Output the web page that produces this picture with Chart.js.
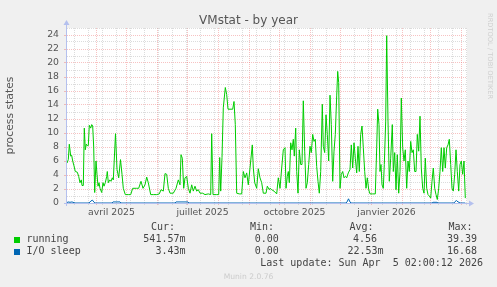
<!DOCTYPE html>
<html><head><meta charset="utf-8">
<script src="https://cdn.jsdelivr.net/npm/chart.js@4.4.1/dist/chart.umd.min.js"></script>
<style>
html,body{margin:0;padding:0;background:#f0f0f0;}
#wrap{position:relative;width:497px;height:287px;overflow:hidden;background:#f0f0f0;}
canvas{position:absolute;left:0;top:0;}
.t{position:absolute;white-space:pre;font-family:'DejaVu Sans';color:#555;}
.m{position:absolute;white-space:pre;font-family:'DejaVu Sans Mono';font-size:10px;line-height:10px;color:#444;}
.sq{position:absolute;width:6px;height:6px;}
</style></head>
<body>
<div id="wrap">
<canvas id="c" width="497" height="287"></canvas>
<div class="t" style="left:0;width:497px;text-align:center;top:13.8px;font-size:12px;line-height:12px;">VMstat - by year</div>
<div class="t" style="left:486.2px;top:13px;writing-mode:vertical-rl;font-size:6.7px;line-height:7px;color:#cfcfcf;">RRDTOOL / TOBI OETIKER</div>

<div class="m" style="right:322px;top:222.2px">Cur:</div>
<div class="m" style="right:223px;top:222.2px">Min:</div>
<div class="m" style="right:123.5px;top:222.2px">Avg:</div>
<div class="m" style="right:24.5px;top:222.2px">Max:</div>

<div class="sq" style="left:14px;top:237px;background:#00cc00"></div>
<div class="m" style="left:26.5px;top:234.3px">running</div>
<div class="m" style="right:311.5px;top:234.3px">541.57m</div>
<div class="m" style="right:218.2px;top:234.3px">0.00</div>
<div class="m" style="right:120px;top:234.3px">4.56</div>
<div class="m" style="right:20px;top:234.3px">39.39</div>

<div class="sq" style="left:14px;top:249px;background:#0066b3"></div>
<div class="m" style="left:26.5px;top:246.3px">I/O sleep</div>
<div class="m" style="right:311.5px;top:246.3px">3.43m</div>
<div class="m" style="right:218.2px;top:246.3px">0.00</div>
<div class="m" style="right:113.5px;top:246.3px">22.53m</div>
<div class="m" style="right:20px;top:246.3px">16.68</div>

<div class="m" style="right:14px;top:258.2px">Last update: Sun Apr  5 02:00:12 2026</div>
<div class="t" style="left:0;width:497px;text-align:center;top:272.9px;font-size:7.6px;line-height:7.6px;color:#cccccc;">Munin 2.0.76</div>
</div>
<script>
// x values: days from the left edge of the 400-day window
const runningDays = [0,1.3,2.3,3.7,4.7,5.7,7,8.3,10.3,11.7,13,14.3,15,16.3,17.3,18.3,19.3,20.3,21.3,22.3,23.7,24.7,25.7,26.7,27.7,29,30,31,32,33,34.7,36,37,38.3,39.7,40.3,41.3,42.7,44,45.3,46.3,48.5,50,51.7,53.5,55,56.3,58.3,61.3,63.7,65.7,69.7,71.7,74,76,78,79.7,81.3,83.7,86.3,89.7,92.3,94,96.3,98,99.7,101.3,103,106.3,109,111.3,113,114,115.3,116.7,118,119.7,121.3,123,124.7,126.3,128,129.7,131.3,133,135.7,138,141.3,143.7,144.7,146,149.7,151.7,152.7,153.7,155,156.3,158.3,159.7,161,163,165.7,167,168.3,169.7,172.3,174.7,176.3,178,179.7,181.3,183,185.3,186.3,187.7,189.7,191.3,193,194.7,196.3,199,200.3,202.3,203,204.7,207,209.7,211.3,213,214.7,216.3,218,219,220.3,221.3,222.3,223.7,225,226.3,227.3,228.7,229.7,231,232.3,233.7,235,236.3,237.7,239,240.3,241.7,243,244.3,245.7,247,248.3,249.7,251,252.3,253.7,255.3,256.3,257.7,259,260.3,261.7,263,264.3,265.7,267,268.3,269.7,270.7,271.7,273,274.3,275.7,277,278.3,279.7,281.3,283,284.3,285.7,287,288.3,289.7,291,292.3,293.7,295,296.3,297.7,299,300.3,301.7,303,305.7,308.3,309.7,310.7,312,313,314,315,316.3,317.3,318.7,319.7,321,322.3,323.7,325.3,326.3,327.7,329,330.3,331.7,333,334.3,335.7,337,338.3,339.7,341,342.3,343.7,345,346.3,347.7,349,350.3,351.7,353,354.3,355.7,357,358.3,359.7,361,362.3,363.7,365,366.3,367.7,369,370.3,371.7,373,374.3,375.7,377,378.3,379.7,381,382.3,383.7,385,386.3,387.7,389,390.3,391.7,393,394.3,395.7,397,398.3];
const runningValues = [5.7,6.2,8.4,6.7,6.8,6.0,5.3,4.5,4.4,3.8,2.9,3.3,2.5,2.5,10.7,7.6,8.4,8.2,8.2,11.1,10.7,11.2,11.0,8.0,1.5,6.0,4.1,2.4,2.9,2.1,1.5,2.9,2.4,2.9,3.8,4.5,2.9,3.3,3.1,3.6,3.3,9.9,4.8,3.6,6.2,4.1,2.1,1.2,1.2,1.2,2.1,2.1,2.1,3.1,2.1,2.6,3.7,2.9,1.2,1.2,1.2,1.3,1.9,1.7,4.2,4.1,2.1,1.4,1.4,2.1,3.3,2.6,6.9,6.4,2.1,3.6,3.8,2.1,1.4,2.6,1.7,2.4,1.7,1.9,1.4,1.4,1.2,1.3,1.2,9.9,1.2,1.2,1.2,6.5,1.7,6.5,13.6,16.5,15.5,13.4,13.4,13.4,14.5,11.2,1.4,1.3,1.3,4.5,3.6,4.3,2.6,5.0,8.3,5.0,2.9,2.1,4.9,3.6,2.9,1.4,1.4,2.4,1.9,2.1,1.9,1.7,1.3,3.6,2.1,5.0,7.6,7.9,2.1,3.8,4.5,2.9,8.6,7.6,9.1,6.7,10.7,4.5,1.4,7.6,5.5,5.5,14.6,7.4,2.1,2.9,5.5,8.1,7.2,9.8,8.8,9.1,5.2,3.1,1.4,4.5,14.1,8.1,7.2,12.6,9.8,6.0,15.4,11.2,3.1,7.4,9.8,15.3,18.8,17.2,2.1,4.1,4.5,3.6,3.8,3.6,4.3,4.8,8.3,5.0,8.6,6.4,4.3,8.1,4.5,9.8,11.0,7.9,4.5,2.1,3.6,1.9,1.3,1.3,1.3,7.9,13.4,11.2,4.5,5.5,2.6,2.1,5.5,11.7,23.9,11.7,3.1,6.4,11.2,4.5,7.2,1.9,6.9,1.4,4.5,15.0,7.9,6.0,7.6,2.1,6.0,4.5,8.8,7.2,7.6,4.5,4.5,9.8,7.4,12.4,5.0,2.1,1.4,6.4,2.1,1.2,1.0,0.7,3.1,5.0,2.1,1.2,0.5,2.1,4.5,7.9,4.5,7.9,5.0,7.9,8.3,9.1,5.5,2.1,1.7,4.1,7.6,4.5,1.7,5.5,6.0,4.1,6.0,0.7];
const ioDays = [0,1,3,5,7,8,22,24,25.5,27,28,45,46,53,54,108,109,121,122,279,280,281.5,283,284,365,366,370,371,387,388,389.5,391,392,393,398.3];
const ioValues = [0.05,0.15,0.1,0.15,0.05,0,0,0.3,0.4,0.1,0,0,0.15,0.15,0,0,0.15,0.15,0,0,0.15,0.6,0.15,0,0,0.1,0.1,0,0,0.2,0.35,0.15,0.1,0,0];
// x axis tick positions (days from left edge)
const monthStartDays = [29,59,90,120,151,182,212,243,273,304,335,363,394];
const twoWeekDays = [7,21,35,49,63,77,91,105,119,133,147,161,175,189,203,217,231,245,259,287,301,315,329,343,357,371,385,399];
const monthLabelDays = [44.5,135.5,227.5,319.5];
const monthLabels = ['avril 2025','juillet 2025','octobre 2025','janvier 2026'];
const yMax = 25;

const GRID = 'rgba(185,185,185,0.5)';
const MGRID = 'rgba(235,110,110,0.42)';
const AXIS = '#b4c0ee';
const FONT = '#555';

function buildXTicks(){
  const t = [];
  monthStartDays.forEach(v => t.push({value:v, kind:'major'}));
  twoWeekDays.forEach(v => t.push({value:v, kind:'minor'}));
  monthLabelDays.forEach(v => t.push({value:v, kind:'label'}));
  t.sort((a,b)=>a.value-b.value);
  return t;
}

const frame = {
  id:'frame',
  beforeDraw(chart){
    const {ctx, chartArea:a} = chart;
    ctx.save(); ctx.fillStyle='#ffffff';
    ctx.fillRect(a.left, a.top, a.right-a.left, a.bottom-a.top);
    ctx.restore();
  },
  afterDatasetsDraw(chart){
    const {ctx, chartArea:a} = chart;
    const by = a.bottom + 0.5, lx = a.left - 0.5;
    ctx.save();
    ctx.strokeStyle = AXIS; ctx.fillStyle = AXIS; ctx.lineWidth = 1;
    ctx.beginPath(); ctx.moveTo(a.left-3, by); ctx.lineTo(a.right+3, by); ctx.stroke();
    ctx.beginPath(); ctx.moveTo(lx, a.bottom+3); ctx.lineTo(lx, a.top-4); ctx.stroke();
    ctx.beginPath(); ctx.moveTo(a.right+7, by); ctx.lineTo(a.right+2, by-3); ctx.lineTo(a.right+2, by+3); ctx.closePath(); ctx.fill();
    ctx.beginPath(); ctx.moveTo(lx, a.top-8); ctx.lineTo(lx-3, a.top-3); ctx.lineTo(lx+3, a.top-3); ctx.closePath(); ctx.fill();
    ctx.restore();
  }
};

new Chart(document.getElementById('c'), {
  type:'line',
  data:{datasets:[
    {label:'running', data: runningDays.map((d,i)=>({x:d, y:runningValues[i]})), borderColor:'#00cc00', borderWidth:1, pointRadius:0, tension:0, fill:false, order:2},
    {label:'I/O sleep', data: ioDays.map((d,i)=>({x:d, y:ioValues[i]})), borderColor:'#0066b3', borderWidth:1, pointRadius:0, tension:0, fill:false, order:1}
  ]},
  options:{
    responsive:false, animation:false, devicePixelRatio:1, events:[],
    layout:{padding:{top:28, right:30, bottom:0, left:0}},
    plugins:{legend:{display:false}, tooltip:{enabled:false}, title:{display:false}},
    scales:{
      x:{
        type:'linear', min:0, max:400,
        afterBuildTicks(s){ s.ticks = buildXTicks(); },
        afterFit(s){ s.height = 84; },
        ticks:{autoSkip:false, maxRotation:0, minRotation:0, padding:2, color:FONT,
          font:{family:'DejaVu Sans', size:9.3},
          callback(v){ const i = monthLabelDays.indexOf(v); return i>=0 ? monthLabels[i] : ''; }},
        grid:{lineWidth:1, drawTicks:true, tickLength:2,
          color(ctx){ const k = ctx.tick && ctx.tick.kind; return k==='major'?MGRID:(k==='minor'?GRID:'rgba(0,0,0,0)'); },
          tickColor(ctx){ const k = ctx.tick && ctx.tick.kind; return k==='major'?MGRID:(k==='minor'?GRID:'rgba(0,0,0,0)'); }},
        border:{display:false, dash:[1,1]}
      },
      y:{
        min:0, max:yMax,
        afterFit(s){ s.width = 67; },
        ticks:{stepSize:1, autoSkip:false, padding:5, color:FONT,
          font:{family:'DejaVu Sans', size:9.3},
          callback(v){ return v%2===0 ? String(v) : ''; }},
        grid:{lineWidth:1, drawTicks:true, tickLength:3,
          color(ctx){ return ctx.tick && ctx.tick.value%2===0 ? MGRID : GRID; },
          tickColor(ctx){ return ctx.tick && ctx.tick.value%2===0 ? MGRID : 'rgba(0,0,0,0)'; }},
        border:{display:false, dash:[1,1]},
        title:{display:true, text:'process states', color:FONT, font:{family:'DejaVu Sans', size:10.8}, padding:{top:4, bottom:0}}
      }
    }
  },
  plugins:[frame]
});
</script>
</body></html>
